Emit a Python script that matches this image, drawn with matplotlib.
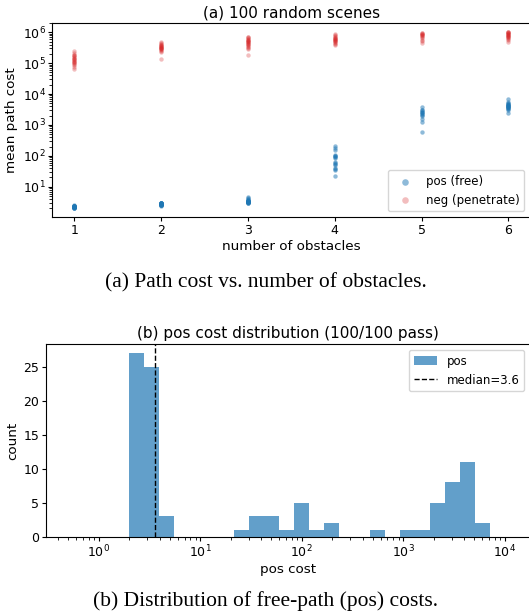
import numpy as np
import matplotlib
matplotlib.use("Agg")
import matplotlib.pyplot as plt

# number of obstacles per scene group
n_obstacles = [1, 2, 3, 4, 5, 6]

# mean path cost of the free (pos) path, per obstacle count
pos_cost = [
    [2.0, 2.08, 2.1, 2.12, 2.15, 2.17, 2.2, 2.22, 2.25, 2.27, 2.3, 2.32, 2.35, 2.37, 2.4, 2.43, 2.46, 2.5],
    [2.45, 2.5, 2.55, 2.6, 2.63, 2.66, 2.7, 2.74, 2.78, 2.85, 2.88, 2.9, 2.92, 2.94, 2.96, 2.97, 2.99, 3.0],
    [2.95, 3.0, 3.05, 3.1, 3.15, 3.2, 3.25, 3.3, 3.35, 3.4, 3.45, 3.5, 3.52, 3.58, 3.62, 3.8, 4.1, 4.3, 4.5],
    [23, 36, 38, 41, 50, 55, 58, 63, 88, 92, 97, 100, 108, 150, 180, 210],
    [600, 1250, 1600, 1950, 2100, 2250, 2400, 2650, 2700, 2950, 3050, 3700],
    [2500, 3100, 3300, 3450, 3550, 3800, 3900, 4000, 4100, 4200, 4350, 4500, 4700, 4900, 5000, 5500, 7100],
]

# mean path cost of the penetrating (neg) path
neg_cost = [
    [66e3, 75e3, 85e3, 92e3, 100e3, 105e3, 112e3, 118e3, 125e3, 132e3, 140e3, 148e3, 155e3, 165e3, 178e3, 190e3, 210e3, 240e3],
    [138e3, 225e3, 250e3, 265e3, 280e3, 290e3, 300e3, 310e3, 320e3, 330e3, 340e3, 350e3, 365e3, 380e3, 400e3, 420e3, 445e3, 470e3],
    [180e3, 290e3, 320e3, 340e3, 360e3, 390e3, 410e3, 430e3, 450e3, 470e3, 490e3, 510e3, 530e3, 550e3, 580e3, 610e3, 640e3, 680e3, 720e3],
    [380e3, 420e3, 450e3, 480e3, 510e3, 530e3, 550e3, 570e3, 590e3, 610e3, 640e3, 670e3, 700e3, 740e3, 800e3, 880e3],
    [450e3, 520e3, 580e3, 640e3, 700e3, 750e3, 790e3, 820e3, 850e3, 880e3, 910e3, 950e3],
    [500e3, 560e3, 610e3, 650e3, 690e3, 720e3, 750e3, 780e3, 800e3, 830e3, 860e3, 890e3, 920e3, 950e3, 980e3, 1010e3, 1050e3],
]

n_bins = 24


def plot_scatter(ax):
    xs_pos = np.concatenate([[n] * len(v) for n, v in zip(n_obstacles, pos_cost)])
    ys_pos = np.concatenate(pos_cost)
    xs_neg = np.concatenate([[n] * len(v) for n, v in zip(n_obstacles, neg_cost)])
    ys_neg = np.concatenate(neg_cost)

    ax.scatter(xs_pos, ys_pos, s=10, color='C0', alpha=0.5, linewidths=0, label='pos (free)')
    ax.scatter(xs_neg, ys_neg, s=10, color='C3', alpha=0.3, linewidths=0, label='neg (penetrate)')
    ax.set_yscale('log')
    ax.set_xticks(n_obstacles)
    ax.set_xlim(0.75, 6.25)
    ax.set_xlabel('number of obstacles', fontsize=9.7, labelpad=2)
    ax.set_ylabel('mean path cost', fontsize=9.7, labelpad=3)
    ax.set_title('(a) 100 random scenes', fontsize=11, pad=4)
    ax.tick_params(labelsize=9, length=3, pad=2)
    ax.legend(loc='lower right', fontsize=8.5, markerscale=1.5)


def plot_hist(ax):
    costs = np.concatenate(pos_cost)
    bins = np.logspace(np.log10(costs.min()), np.log10(costs.max()), n_bins + 1)
    med = np.median(costs)
    ax.hist(costs, bins=bins, color='C0', alpha=0.7, label='pos')
    ax.axvline(med, color='k', linestyle='--', linewidth=1.0, label='median=%.1f' % med)
    ax.set_xscale('log')
    ax.set_xlim(10 ** -0.52, 10 ** 4.25)
    ax.set_xlabel('pos cost', fontsize=9.7, labelpad=2)
    ax.set_ylabel('count', fontsize=9.7, labelpad=3)
    ax.set_title('(b) pos cost distribution (100/100 pass)', fontsize=11, pad=4)
    ax.tick_params(labelsize=9, length=3, pad=2)
    ax.legend(loc='upper right', fontsize=8.5)


def main():
    fig = plt.figure(figsize=(5.29, 6.16), dpi=100)
    ax1 = fig.add_axes([0.0992, 0.6474, 0.903, 0.3157])
    ax2 = fig.add_axes([0.087, 0.1287, 0.915, 0.3128])
    plot_scatter(ax1)
    plot_hist(ax2)

    fig.text(0.502, 1 - 283 / 616, '(a) Path cost vs. number of obstacles.',
             family='Liberation Serif', fontsize=15.5, ha='center', va='center')
    fig.text(0.502, 1 - 601 / 616, '(b) Distribution of free-path (pos) costs.',
             family='Liberation Serif', fontsize=15.5, ha='center', va='center')
    fig.savefig('out.png', dpi=100)


if __name__ == '__main__':
    main()
